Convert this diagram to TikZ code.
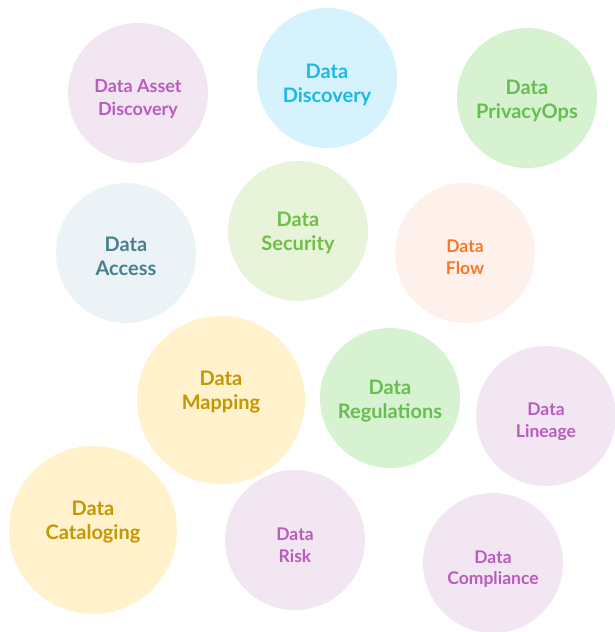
\documentclass[tikz,border=0pt]{standalone}
\usepackage{fontspec}
\setmainfont{Lato}
\definecolor{purpF}{RGB}{241,230,242}
\definecolor{purpT}{RGB}{186,92,190}
\definecolor{cyanF}{RGB}{214,243,253}
\definecolor{cyanT}{RGB}{28,185,232}
\definecolor{grnF}{RGB}{214,242,208}
\definecolor{grnT}{RGB}{102,190,80}
\definecolor{accF}{RGB}{235,243,246}
\definecolor{accT}{RGB}{72,128,142}
\definecolor{secF}{RGB}{232,244,218}
\definecolor{secT}{RGB}{112,190,70}
\definecolor{flowF}{RGB}{254,241,236}
\definecolor{flowT}{RGB}{250,120,40}
\definecolor{yelF}{RGB}{255,242,204}
\definecolor{yelT}{RGB}{198,150,0}
\tikzset{
  bub/.style={circle, draw=none, minimum size=140pt, inner sep=0pt},
  bigbub/.style={circle, draw=none, minimum size=168pt, inner sep=0pt},
  lbl/.style={align=center, font=\bfseries\fontsize{20}{24}\selectfont},
  mlbl/.style={align=center, font=\bfseries\fontsize{18}{23}\selectfont},
  slbl/.style={align=center, font=\bfseries\fontsize{17.5}{21.5}\selectfont},
}
\begin{document}
\begin{tikzpicture}[x=1pt,y=-1pt]
\useasboundingbox (0,0) rectangle (615,632);
\node[bub, fill=purpF] (c1) at (138,93) {};
\node[mlbl, purpT] (t1) at (138,99) {Data Asset\\Discovery};
\node[bub, fill=cyanF] (c2) at (327,78) {};
\node[lbl, cyanT] (t2) at (327,84.5) {Data\\Discovery};
\node[bub, fill=grnF] (c3) at (527,98) {};
\node[lbl, grnT] (t3) at (527,100.5) {Data\\PrivacyOps};
\node[bub, fill=accF] (c4) at (126,253) {};
\node[lbl, accT] (t4) at (126,256.5) {Data\\Access};
\node[bub, fill=secF] (c5) at (298,231) {};
\node[lbl, secT] (t5) at (298,232.5) {Data\\Security};
\node[bub, fill=flowF] (c6) at (465,253) {};
\node[slbl, flowT] (t6) at (465,257) {Data\\Flow};
\node[bigbub, fill=yelF] (c7) at (221,400) {};
\node[lbl, yelT] (t7) at (221,392.5) {Data\\Mapping};
\node[bub, fill=grnF] (c8) at (390,398) {};
\node[lbl, grnT] (t8) at (390,401.5) {Data\\Regulations};
\node[bub, fill=purpF] (c9) at (546,416) {};
\node[slbl, purpT] (t9) at (546,421.5) {Data\\Lineage};
\node[bigbub, fill=yelF] (c10) at (93,530) {};
\node[lbl, yelT] (t10) at (93,522) {Data\\Cataloging};
\node[bub, fill=purpF] (c11) at (295,540) {};
\node[slbl, purpT] (t11) at (295,545) {Data\\Risk};
\node[bub, fill=purpF] (c12) at (493,563) {};
\node[slbl, purpT] (t12) at (493,569) {Data\\Compliance};
\end{tikzpicture}
\end{document}
